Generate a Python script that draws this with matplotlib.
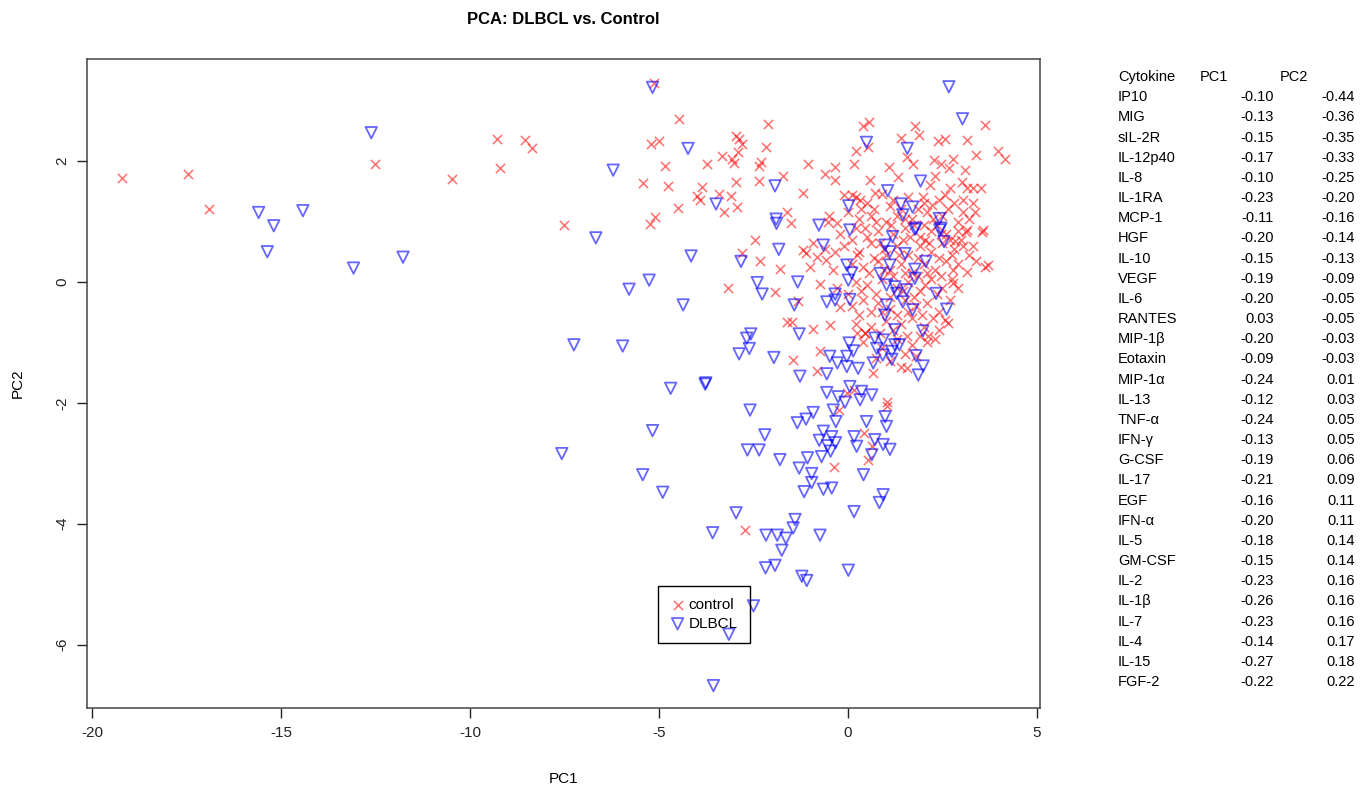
import matplotlib
matplotlib.use("Agg")
import matplotlib.pyplot as plt

plt.rcParams['font.family'] = ['Liberation Sans', 'DejaVu Sans']

control_x = [-19.21, -17.47, -16.89, -12.51, -10.48, -9.29, -9.21,
    -5.12, -4.46, -8.54, -8.35, -5.20, -5.01, -3.33, -4.85, -3.74, -5.42, -4.76, -3.87, -4.00,
    -3.92, -3.40, -4.49, -3.28, -5.11, -5.25, -7.50, -3.18,
    -2.12, -2.96, -2.88, -2.79, -2.17, -3.06, -2.92, -3.02, -2.30, -2.35, -1.07, -2.95, -2.35,
    -1.71, -0.60, -0.34, -0.34, -1.18, -3.10, -2.94, -1.60, -1.52, 0.16, 0.21, 0.41, 0.56, 0.54,
    0.58, -0.11, 0.10, 0.32, 0.71,
    3.62, 1.77, 1.89, 1.40, 2.39, 2.57, 3.14, 3.98, 4.15, 3.40, 1.55, 1.73, 2.28, 2.79, 2.46,
    2.67, 3.10, 1.09, 1.33, 2.30, 2.17, 2.70, 3.01, 3.14, 3.31, 3.52, 2.57, 3.03, 3.05, 3.36,
    1.99, 2.21, 3.14, 3.58,
    3.11, 3.54, 2.83, 3.62, 3.71, 3.14, 2.79, 2.79, 2.70, 2.57, 2.65, 2.12, 1.80, 1.55,
    -0.52, -0.30, -2.46, -0.92, -1.18, -1.11, -2.81, -2.33, -1.80, -0.83, -0.58, -0.34, -1.01,
    -1.93, -0.74, -1.31, -0.21, -1.62, -1.49, -0.93, -0.48, -1.45, -0.83, -0.74, 0.23, 0.45, 0.67,
    -0.03, 0.16, 1.02, 1.02, -0.23, 0.42, 0.63, 0.52, -0.37, -2.72,
    0.2, 0.5, 0.9, 1.2, 1.6, 2.0, 2.4, 2.8, 0.7, 1.4,
    -0.5, 0.0, 0.3, 0.6, 1.0, 1.3, 1.7, 2.1, 2.5, 2.9, 3.2,
    -0.2, 0.2, 0.5, 0.8, 1.2, 1.5, 1.9, 2.2, 2.6, 3.0, 2.35, 2.0,
    -0.6, -0.1, 0.3, 0.6, 0.95, 1.3, 1.6, 1.9, 2.2, 2.5, 2.8, 3.05, 1.45, 2.05, 2.7,
    -0.4, 0.1, 0.4, 0.8, 1.1, 1.4, 1.7, 2.0, 2.3, 2.6, 2.9, 1.2,
    -0.3, 0.2, 0.5, 0.9, 1.3, 1.6, 1.9, 2.2, 2.5, 0.0,
    0.1, 0.4, 0.8, 1.1, 1.5, 1.8, 2.1, 2.4, 0.6,
    0.2, 0.6, 1.0, 1.4, 1.7, 2.0, 2.4,
    0.4, 0.9, 1.3, 1.7, 2.1, 1.5,
    0.35, 0.75, 1.1, 1.5, 1.85, 2.25, 2.65, 3.3, 0.1, 0.45, 0.85, 1.15, 1.65, 1.75, 2.15, 2.45,
    2.9, 3.3, 0.25, 0.7, 1.0, 1.35, 1.85, 2.1, 2.4, 2.75, 3.2, 0.55, 0.95, 1.5, 1.85, 2.45,
    2.75, 3.4, 0.35, 0.75, 1.1, 1.45, 1.75, 2.05, 2.35, 2.9, 0.3, 0.9, 1.3, 1.6, 1.95, 2.25,
    0.45, 0.85, 1.2, 1.55, 1.9, 2.3, 1.1, 1.4, 0.75]
control_y = [1.72, 1.79, 1.21, 1.95, 1.70, 2.37, 1.88,
    3.29, 2.69, 2.35, 2.21, 2.28, 2.34, 2.09, 1.92, 1.96, 1.64, 1.59, 1.57, 1.43,
    1.35, 1.45, 1.23, 1.15, 1.08, 0.96, 0.95, -0.10,
    2.61, 2.41, 2.36, 2.29, 2.23, 2.04, 2.15, 1.97, 1.99, 1.92, 1.95, 1.66, 1.67,
    1.75, 1.79, 1.90, 1.68, 1.48, 1.43, 1.24, 1.16, 0.97, 1.95, 2.17, 2.58, 2.65, 2.23,
    1.69, 1.44, 1.44, 1.36, 1.47,
    2.60, 2.58, 2.43, 2.39, 2.33, 2.36, 2.35, 2.17, 2.03, 2.10, 2.07, 1.95, 2.02, 2.03, 1.95,
    1.88, 1.86, 1.91, 1.73, 1.75, 1.60, 1.55, 1.66, 1.56, 1.55, 1.55, 1.44, 1.36, 1.16, 1.16,
    1.41, 1.27, 0.86, 0.86,
    0.83, 0.83, 0.67, 0.25, 0.28, 0.16, 0.20, -0.02, -0.30, -0.63, -0.68, -0.90, -1.22, -1.43,
    1.00, 0.97, 0.69, 0.64, 0.53, 0.48, 0.48, 0.34, 0.21, 0.42, 0.37, 0.50, 0.25,
    -0.16, -0.03, -0.31, -0.41, -0.66, -0.66, -0.78, -0.71, -1.29, -1.48, -1.15, -0.85, -0.85, -1.51,
    -1.84, -1.79, -1.98, -2.05, -2.12, -2.50, -2.71, -2.95, -3.06, -4.11,
    1.4, 1.3, 1.45, 1.35, 1.4, 1.3, 1.35, 1.3, 1.2, 1.2,
    1.1, 1.15, 1.05, 1.1, 1.0, 1.1, 1.05, 1.15, 1.1, 1.0, 1.05,
    0.8, 0.9, 0.75, 0.85, 0.8, 0.9, 0.75, 0.85, 0.8, 0.7, 0.95, 0.95,
    0.55, 0.6, 0.5, 0.65, 0.55, 0.6, 0.45, 0.6, 0.5, 0.65, 0.55, 0.6, 0.7, 0.7, 0.7,
    0.2, 0.3, 0.25, 0.35, 0.2, 0.3, 0.15, 0.3, 0.2, 0.35, 0.3, 0.1,
    -0.1, 0.0, -0.05, 0.05, -0.1, 0.0, -0.15, 0.05, -0.1, -0.2,
    -0.4, -0.3, -0.35, -0.45, -0.3, -0.4, -0.35, -0.5, -0.5,
    -0.7, -0.75, -0.65, -0.7, -0.6, -0.75, -0.8,
    -1.0, -1.1, -0.95, -1.05, -1.0, -1.2,
    1.2, 1.0, 1.25, 1.05, 1.2, 1.05, 1.2, 1.3, 0.7, 0.9, 0.65, 0.95, 0.75, 0.95, 0.65, 0.8,
    0.85, 0.6, 0.45, 0.4, 0.45, 0.45, 0.4, 0.15, 0.4, 0.45, 0.45, 0.15, 0.2, 0.15, 0.1, 0.1,
    0.05, 0.35, -0.15, -0.2, -0.25, -0.15, -0.25, -0.05, -0.2, -0.1, -0.55, -0.5, -0.55, -0.5, -0.55, -0.6,
    -0.85, -0.85, -0.8, -0.9, -0.9, -0.95, -1.3, -1.4, -1.25]

dlbcl_x = [-15.59, -15.19, -15.36, -14.42, -12.61, -13.08, -11.77,
    -5.17, -4.23, -6.21, -3.49, -6.67, -4.15, -5.26, -5.79, -4.36,
    -1.93, -1.90, -1.89, 0.49, 0.02,
    2.67, 3.03, 1.57, 1.92, 1.05, 1.40, 1.71, 1.45, 2.42, 1.80, 2.46,
    1.18, 1.77, 2.43, 2.54, 0.98, 1.11, 1.51, 2.06, 1.11, 1.77, 1.77, 0.85, 2.33, 1.02, 1.24,
    1.55, 1.29, 1.45, 2.61, 1.71, 1.02, 0.98, 1.98, 1.24, 0.71, 0.93, 1.24, 1.36, 0.76, 0.92,
    1.16, 1.16, 1.80, 1.99, 1.86, 0.67,
    -0.77, 0.05, -1.83, -0.65, -2.83, -0.03, 0.10, 0.01, -2.40, -2.27, -1.33, -1.42, -0.56,
    -0.34, -0.34, 0.05, -1.29, -2.57, -2.68, -2.61, -2.88, -1.96, -1.27, -0.56, -0.48, -0.28,
    -0.03, 0.27, 0.03, 0.14, -0.03,
    -7.25, -5.96, -4.69, -3.76, -5.17, -7.57, -5.43, -4.90,
    0.05, 0.36, 0.63, -0.56, -0.26, -0.08, 0.32, -0.39, -2.59, -0.92, -1.11, -1.34, -0.32, 0.49,
    0.98, 1.02, -2.20, -2.66, -2.35, -0.65, -0.43, -0.76, -0.54, -0.33, -0.46, -0.70, 0.16, 0.23,
    0.71, 0.93, 1.11, 0.63, -1.80, -1.07, -1.29, -0.96, -0.96, 0.41, -1.16, -0.65, -0.43, 0.93,
    0.83, -2.96, 0.16, -1.40, -1.45, -3.58, -2.17, -1.87, -1.64, -0.74, -3.78,
    -1.75, -2.18, -1.93, -1.22, -1.09, 0.01, -2.50, -3.15, -3.56]
dlbcl_y = [1.15, 0.93, 0.50, 1.18, 2.47, 0.23, 0.41,
    3.22, 2.21, 1.85, 1.29, 0.73, 0.43, 0.03, -0.12, -0.38,
    1.59, 1.04, 0.97, 2.31, 1.26,
    3.23, 2.70, 2.21, 1.67, 1.51, 1.29, 1.24, 1.11, 1.05, 0.89, 0.89,
    0.75, 0.87, 0.86, 0.67, 0.61, 0.50, 0.47, 0.34, 0.28, 0.21, 0.06, 0.14, -0.19, -0.05, -0.08,
    -0.13, -0.19, -0.33, -0.45, -0.46, -0.38, -0.55, -0.81, -0.79, -0.93, -0.96, -1.04, -1.04, -1.10, -1.21,
    -1.15, -1.28, -1.22, -1.39, -1.54, -1.34,
    0.94, 0.86, 0.54, 0.61, 0.34, 0.28, 0.15, 0.03, -0.01, -0.20, 0.00, -0.38, -0.33,
    -0.30, -0.20, -0.29, -0.86, -0.86, -0.93, -1.10, -1.19, -1.25, -1.56, -1.52, -1.23, -1.34,
    -1.40, -1.43, -1.01, -1.14, -1.23,
    -1.04, -1.06, -1.76, -1.67, -2.46, -2.84, -3.19, -3.48,
    -1.73, -1.81, -1.87, -1.83, -1.90, -1.99, -1.95, -2.12, -2.12, -2.16, -2.27, -2.33, -2.31, -2.31,
    -2.23, -2.39, -2.53, -2.78, -2.78, -2.47, -2.56, -2.62, -2.71, -2.66, -2.80, -2.89, -2.56, -2.72,
    -2.61, -2.69, -2.77, -2.86, -2.94, -2.91, -3.08, -3.17, -3.32, -3.19, -3.47, -3.43, -3.41, -3.52,
    -3.65, -3.82, -3.80, -3.93, -4.07, -4.15, -4.19, -4.19, -4.24, -4.19, -1.69,
    -4.44, -4.73, -4.69, -4.87, -4.94, -4.77, -5.36, -5.83, -6.68]

cytokines = ["IP10", "MIG", "sIL-2R", "IL-12p40", "IL-8", "IL-1RA", "MCP-1", "HGF", "IL-10",
             "VEGF", "IL-6", "RANTES", "MIP-1β", "Eotaxin", "MIP-1α", "IL-13", "TNF-α", "IFN-γ",
             "G-CSF", "IL-17", "EGF", "IFN-α", "IL-5", "GM-CSF", "IL-2", "IL-1β", "IL-7", "IL-4",
             "IL-15", "FGF-2"]
pc1_loadings = [-0.10, -0.13, -0.15, -0.17, -0.10, -0.23, -0.11, -0.20, -0.15, -0.19, -0.20, 0.03,
                -0.20, -0.09, -0.24, -0.12, -0.24, -0.13, -0.19, -0.21, -0.16, -0.20, -0.18, -0.15,
                -0.23, -0.26, -0.23, -0.14, -0.27, -0.22]
pc2_loadings = [-0.44, -0.36, -0.35, -0.33, -0.25, -0.20, -0.16, -0.14, -0.13, -0.09, -0.05, -0.05,
                -0.03, -0.03, 0.01, 0.03, 0.05, 0.05, 0.06, 0.09, 0.11, 0.11, 0.14, 0.14,
                0.16, 0.16, 0.16, 0.17, 0.18, 0.22]

W, H = 1368, 787
fig = plt.figure(figsize=(W / 100, H / 100), dpi=100)
ax = fig.add_axes([87 / W, 1 - 708 / H, (1040 - 87) / W, (708 - 59) / H])

ax.scatter(control_x, control_y, marker='x', s=44, color=(1, 0, 0, 0.55), linewidths=1.15,
           label='control', zorder=2)
ax.scatter(dlbcl_x, dlbcl_y, marker='v', s=68, facecolors='none',
           edgecolors=(0, 0, 1, 0.6), linewidths=1.3, label='DLBCL', zorder=3)

ax.set_xlim(-20.13, 5.08)
ax.set_ylim(-7.05, 3.69)
ax.set_xticks([-20, -15, -10, -5, 0, 5])
ax.set_yticks([-6, -4, -2, 0, 2])
ax.set_xticklabels(['-20', '-15', '-10', '-5', '0', '5'])
ax.set_yticklabels(['-6', '-4', '-2', '0', '2'], rotation=90, va='center')
ax.tick_params(direction='out', length=7, width=1, labelsize=11, colors='#222222', pad=6)
for sp in ax.spines.values():
    sp.set_color('#444444')
    sp.set_linewidth(1.1)

ax.set_xlabel('PC1', fontsize=11, labelpad=23)
ax.set_ylabel('PC2', fontsize=11, labelpad=22)
fig.text(563 / W, 1 - 19 / H, 'PCA: DLBCL vs. Control', ha='center', va='center',
         fontsize=12, fontweight='bold')

leg = ax.legend(loc='upper left', bbox_to_anchor=((657.7 - 87) / 953, (708 - 586) / 649),
                borderaxespad=0, fancybox=False, edgecolor='black', facecolor='none',
                framealpha=1, fontsize=11, handletextpad=0.2, borderpad=0.8,
                labelspacing=0.3, handlelength=1.0)
leg.get_frame().set_linewidth(1.0)

# loadings table
row0 = 77
dy = 20.17
fig.text(1118 / W, 1 - row0 / H, 'Cytokine', ha='left', va='center', fontsize=10.5)
fig.text(1200 / W, 1 - row0 / H, 'PC1', ha='left', va='center', fontsize=10.5)
fig.text(1280 / W, 1 - row0 / H, 'PC2', ha='left', va='center', fontsize=10.5)
for i, (name, a, b) in enumerate(zip(cytokines, pc1_loadings, pc2_loadings)):
    yy = 1 - (row0 + (i + 1) * dy) / H
    fig.text(1118 / W, yy, name, ha='left', va='center', fontsize=10.5)
    fig.text(1274 / W, yy, f"{a:.2f}", ha='right', va='center', fontsize=10.5)
    fig.text(1355 / W, yy, f"{b:.2f}", ha='right', va='center', fontsize=10.5)

fig.savefig('out.png', dpi=100, facecolor='white')
